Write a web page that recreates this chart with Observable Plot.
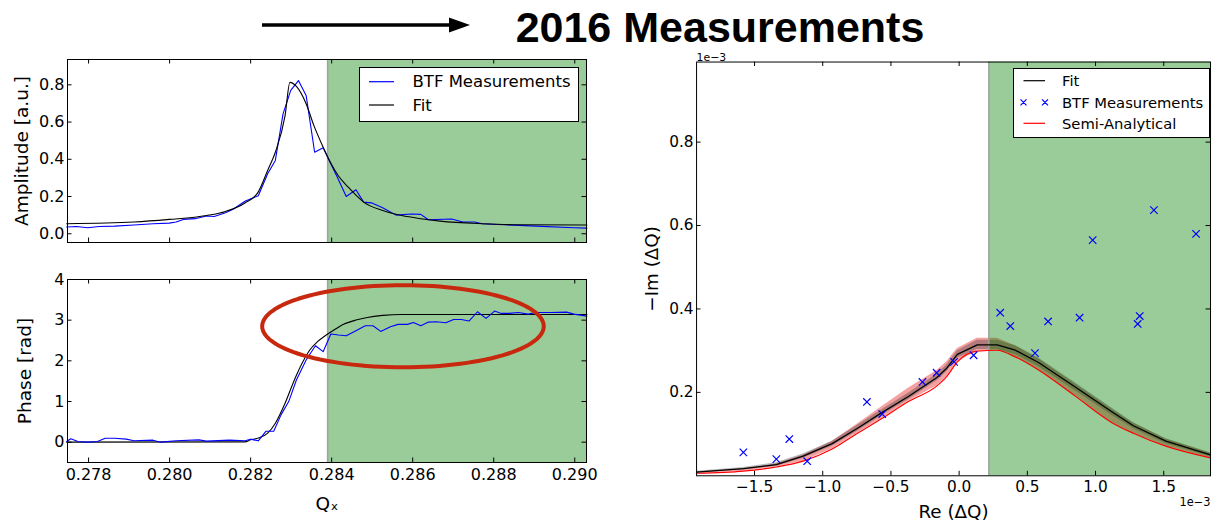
<!DOCTYPE html>
<html><head><meta charset="utf-8">
<script src="https://cdn.jsdelivr.net/npm/d3@7"></script>
<script src="https://cdn.jsdelivr.net/npm/@observablehq/plot@0.6"></script>
<style>
html,body{margin:0;padding:0;background:#fff;}
body{width:1214px;height:528px;overflow:hidden;position:relative;font-family:"DejaVu Sans",sans-serif;}
.abs{position:absolute;}
</style></head><body>
<svg class="abs" style="left:0;top:0;overflow:visible" width="1214" height="54">
  <line x1="262" y1="25" x2="452" y2="25" stroke="#000" stroke-width="3.5"/>
  <polygon points="449,17.5 470,25 449,32.5" fill="#000"/>
  <text x="720" y="41.5" text-anchor="middle" font-family="Liberation Sans, Arial, sans-serif" font-weight="bold" font-size="43">2016 Measurements</text>
</svg>
<div id="amp" class="abs" style="left:0;top:50px"></div>
<div id="phase" class="abs" style="left:0;top:255px"></div>
<div id="cplx" class="abs" style="left:600px;top:45px"></div>
<svg class="abs" style="left:359px;top:67px" width="220" height="55">
  <rect x="0.5" y="0.5" width="219" height="54" fill="#fff" stroke="#000"/>
  <line x1="10" x2="35" y1="14.7" y2="14.7" stroke="#0000ff" stroke-width="1.2"/>
  <text x="53.5" y="14.7" dominant-baseline="central" font-family="DejaVu Sans" font-size="16.5">BTF Measurements</text>
  <line x1="10" x2="35" y1="38" y2="38" stroke="#000" stroke-width="1.2"/>
  <text x="53.5" y="38" dominant-baseline="central" font-family="DejaVu Sans" font-size="16.5">Fit</text>
</svg>
<svg class="abs" style="left:1013px;top:68px" width="197" height="70">
  <rect x="0.5" y="0.5" width="196" height="69" fill="#fff" stroke="#000"/>
  <line x1="10.5" x2="32" y1="12.7" y2="12.7" stroke="#000" stroke-width="1.2"/>
  <text x="49" y="12.7" dominant-baseline="central" font-family="DejaVu Sans" font-size="14.75">Fit</text>
  <path d="M7.5,31.3 l6,6 M13.5,31.3 l-6,6 M29,31.3 l6,6 M35,31.3 l-6,6" stroke="#0000ff" stroke-width="1.2"/>
  <text x="49" y="34.3" dominant-baseline="central" font-family="DejaVu Sans" font-size="14.75">BTF Measurements</text>
  <line x1="10.5" x2="32" y1="55.3" y2="55.3" stroke="#ff0000" stroke-width="1.2"/>
  <text x="49" y="55.3" dominant-baseline="central" font-family="DejaVu Sans" font-size="14.75">Semi-Analytical</text>
</svg>
<script>
// ---------- data: left panels (tune Qx) ----------
const qDomain = [0.27748, 0.29029];
const qTicks = [0.278, 0.280, 0.282, 0.284, 0.286, 0.288, 0.290];
const ampTicks = [0.0, 0.2, 0.4, 0.6, 0.8];
const phaseTicks = [0, 1, 2, 3, 4];
const stableFromQ = 0.2839;

const ampQ = [0.27746,0.27770,0.27798,0.27826,0.27864,0.27912,0.27959,0.27999,0.28016,0.28034,0.28063,0.28091,0.28110,0.28138,0.28157,0.28186,0.28219,0.28242,0.28261,0.28280,0.28299,0.28318,0.28337,0.28358,0.28379,0.28394,0.28412,0.28436,0.28460,0.28479,0.28498,0.28526,0.28559,0.28597,0.28620,0.28639,0.28696,0.28724,0.28753,0.28772,0.28809,0.28904,0.28998,0.29030];
const ampBTF = [0.036,0.039,0.032,0.039,0.041,0.047,0.054,0.057,0.063,0.077,0.081,0.095,0.093,0.113,0.132,0.175,0.204,0.322,0.394,0.644,0.770,0.823,0.743,0.438,0.462,0.394,0.313,0.200,0.236,0.170,0.166,0.140,0.100,0.106,0.104,0.075,0.079,0.063,0.063,0.054,0.050,0.041,0.032,0.030];
const ampFitQ = [0.27746,0.27912,0.27999,0.28091,0.28138,0.28186,0.28219,0.28242,0.28261,0.28285,0.28297,0.28313,0.28337,0.28356,0.28379,0.28398,0.28416,0.28441,0.28479,0.28526,0.28573,0.28620,0.28668,0.28772,0.28866,0.29030];
const ampFit = [0.054,0.063,0.077,0.098,0.120,0.165,0.225,0.340,0.438,0.635,0.813,0.791,0.698,0.582,0.465,0.379,0.313,0.250,0.170,0.125,0.098,0.081,0.068,0.054,0.048,0.047];

const phaseQ = [0.27746,0.27756,0.27774,0.27798,0.27822,0.27841,0.27864,0.27893,0.27912,0.27959,0.27978,0.28016,0.28072,0.28091,0.28148,0.28186,0.28200,0.28219,0.28238,0.28257,0.28275,0.28294,0.28313,0.28337,0.28360,0.28379,0.28398,0.28417,0.28436,0.28460,0.28483,0.28502,0.28521,0.28545,0.28564,0.28587,0.28602,0.28620,0.28639,0.28658,0.28682,0.28701,0.28720,0.28739,0.28760,0.28781,0.28802,0.28819,0.28838,0.28861,0.28885,0.28904,0.28942,0.28980,0.28998,0.29030];
const phaseBTF = [0.016,0.082,0.016,0.000,0.016,0.098,0.098,0.074,0.033,0.049,0.000,0.033,0.057,0.025,0.049,0.033,0.074,0.033,0.270,0.270,0.671,0.998,1.530,2.020,2.372,2.225,2.658,2.634,2.618,2.740,2.863,2.863,2.724,2.838,2.896,2.896,2.945,2.863,2.953,2.961,2.937,3.018,3.018,2.978,3.207,3.043,3.223,3.166,3.166,3.190,3.149,3.190,3.190,3.198,3.149,3.100];
const phaseFitQ = [0.27746,0.28186,0.28200,0.28223,0.28242,0.28261,0.28285,0.28308,0.28327,0.28346,0.28365,0.28384,0.28403,0.28431,0.28460,0.28488,0.28526,0.28573,0.29030];
const phaseFit = [0.000,0.008,0.057,0.115,0.221,0.466,0.957,1.530,1.939,2.266,2.470,2.618,2.740,2.904,3.002,3.067,3.117,3.141,3.141];

// red highlight ellipse (annotation): centre and radii in data units
const ellipseCenter = {q: 0.28576, phase: 2.85};
const ellipseRadii = {q: 0.003475, phase: 1.01};

// ---------- data: right panel (stability diagram, units 1e-3) ----------
const reDomain = [-1.925, 1.843];
const imDomain = [0, 0.992];
const reTicks = [-1.5, -1.0, -0.5, 0.0, 0.5, 1.0, 1.5];
const imTicks = [0.2, 0.4, 0.6, 0.8];
const stableFromRe = 0.218;

const btfRe = [-1.582,-1.340,-1.245,-1.114,-0.676,-0.564,-0.269,-0.165,-0.037,0.106,0.301,0.375,0.556,0.652,0.883,1.309,1.324,0.979,1.428,1.737];
const btfIm = [0.056,0.040,0.088,0.035,0.177,0.148,0.225,0.247,0.273,0.289,0.391,0.359,0.294,0.370,0.379,0.364,0.383,0.565,0.637,0.580];

const curveRe = [-1.925,-1.582,-1.340,-1.144,-0.931,-0.745,-0.564,-0.372,-0.165,-0.093,-0.013,0.133,0.279,0.412,0.585,0.851,1.117,1.277,1.516,1.843];
const fitIm  = [0.009,0.017,0.027,0.047,0.077,0.114,0.152,0.190,0.235,0.257,0.291,0.314,0.314,0.301,0.271,0.213,0.154,0.120,0.083,0.050];
const fitLo  = [0.007,0.014,0.023,0.042,0.071,0.107,0.145,0.182,0.227,0.249,0.282,0.303,0.303,0.291,0.261,0.204,0.146,0.113,0.077,0.045];
const fitHi  = [0.011,0.020,0.031,0.052,0.083,0.121,0.159,0.198,0.243,0.265,0.300,0.325,0.325,0.312,0.282,0.223,0.163,0.128,0.089,0.055];
const semiIm = [0.006,0.011,0.021,0.035,0.064,0.102,0.138,0.178,0.215,0.237,0.273,0.299,0.301,0.285,0.253,0.191,0.128,0.102,0.071,0.043];
const semiHi = [0.009,0.016,0.028,0.049,0.082,0.124,0.166,0.210,0.252,0.272,0.305,0.330,0.330,0.312,0.280,0.220,0.160,0.126,0.088,0.054];

// ---------- helpers ----------
const zipXY = (xs, ys) => xs.map((x, i) => ({x, y: ys[i]}));
function frameTicks(xt, yt, fw, fh, len = 4.5) {
  return [
    Plot.tickX(xt, {x: d => d, insetTop: fh - len, stroke: "black"}),
    Plot.tickX(xt, {x: d => d, insetBottom: fh - len, stroke: "black"}),
    Plot.tickY(yt, {y: d => d, insetRight: fw - len, stroke: "black"}),
    Plot.tickY(yt, {y: d => d, insetLeft: fw - len, stroke: "black"})
  ];
}
const baseStyle = {fontFamily: "DejaVu Sans, sans-serif", color: "black", background: "transparent", overflow: "visible"};
const green = "#99cc99";

// ---------- amplitude ----------
const ampPlot = Plot.plot({
  width: 600, height: 205, marginLeft: 67, marginRight: 14, marginTop: 9, marginBottom: 13,
  style: {...baseStyle, fontSize: "16px"},
  x: {domain: qDomain, axis: null},
  y: {domain: [-0.047, 0.936], ticks: ampTicks, tickSize: 0, tickPadding: 3, tickFormat: d3.format(".1f"), label: null},
  marks: [
    Plot.rect([{from: stableFromQ, to: qDomain[1]}], {x1: "from", x2: "to", fill: green}),
    Plot.ruleX([stableFromQ], {stroke: "#a0a0a0", strokeWidth: 1.5}),
    Plot.line(zipXY(ampQ, ampBTF), {x: "x", y: "y", stroke: "#0000ff", strokeWidth: 1.1}),
    Plot.line(zipXY(ampFitQ, ampFit), {x: "x", y: "y", stroke: "#000", strokeWidth: 1.1, curve: "monotone-x"}),
    Plot.frame({stroke: "black"}),
    ...frameTicks(qTicks, ampTicks, 519, 183),
    Plot.text(["Amplitude [a.u.]"], {text: d => d, frameAnchor: "left", textAnchor: "middle", lineAnchor: "middle", dx: -45, rotate: -90, fontSize: 18.5})
  ]
});
document.getElementById("amp").append(ampPlot);

// ---------- phase ----------
const ellipsePts = d3.range(0, 360, 3).map(a => ({
  q: ellipseCenter.q + ellipseRadii.q * Math.cos(a * Math.PI / 180),
  p: ellipseCenter.phase + ellipseRadii.phase * Math.sin(a * Math.PI / 180)
}));
const phasePlot = Plot.plot({
  width: 600, height: 273, marginLeft: 67, marginRight: 14, marginTop: 24, marginBottom: 66,
  style: {...baseStyle, fontSize: "16px"},
  x: {domain: qDomain, ticks: qTicks, tickSize: 0, tickPadding: 6, tickFormat: d3.format(".3f"), label: null},
  y: {domain: [-0.5, 4], ticks: phaseTicks, tickSize: 0, tickPadding: 3, tickFormat: d3.format("d"), label: null},
  marks: [
    Plot.rect([{from: stableFromQ, to: qDomain[1]}], {x1: "from", x2: "to", fill: green}),
    Plot.ruleX([stableFromQ], {stroke: "#a0a0a0", strokeWidth: 1.5}),
    Plot.line(zipXY(phaseFitQ, phaseFit), {x: "x", y: "y", stroke: "#000", strokeWidth: 1.1, curve: "monotone-x"}),
    Plot.line(zipXY(phaseQ, phaseBTF), {x: "x", y: "y", stroke: "#0000ff", strokeWidth: 1.1}),
    Plot.line(ellipsePts, {x: "q", y: "p", stroke: "#c8290e", strokeWidth: 4, curve: "linear-closed"}),
    Plot.frame({stroke: "black"}),
    ...frameTicks(qTicks, phaseTicks, 519, 183),
    Plot.text(["Phase [rad]"], {text: d => d, frameAnchor: "left", textAnchor: "middle", lineAnchor: "middle", dx: -42, rotate: -90, fontSize: 18.5}),
    Plot.text(["Qₓ"], {text: d => d, frameAnchor: "bottom", lineAnchor: "middle", dy: 42, fontSize: 18.5})
  ]
});
document.getElementById("phase").append(phasePlot);

// ---------- complex plane ----------
const curves = curveRe.map((re, i) => ({re, fit: fitIm[i], lo: fitLo[i], hi: fitHi[i], semi: semiIm[i], semiHi: semiHi[i]}));
const btf = zipXY(btfRe, btfIm);
const cplxPlot = Plot.plot({
  width: 620, height: 483, marginLeft: 97, marginRight: 4, marginTop: 16.7, marginBottom: 48.5,
  style: {...baseStyle, fontSize: "15.5px"},
  x: {domain: reDomain, ticks: reTicks, tickSize: 0, tickPadding: 5, tickFormat: d3.format(".1f"), label: null},
  y: {domain: imDomain, ticks: imTicks, tickSize: 0, tickPadding: 3, tickFormat: d3.format(".1f"), label: null},
  marks: [
    Plot.areaY(curves, {x: "re", y1: "semi", y2: "semiHi", fill: "#ee4444", fillOpacity: 0.5}),
    Plot.areaY(curves, {x: "re", y1: "lo", y2: "hi", fill: "#333", fillOpacity: 0.35}),
    Plot.rect([{from: stableFromRe, to: reDomain[1]}], {x1: "from", x2: "to", fill: "#008000", fillOpacity: 0.4}),
    Plot.ruleX([stableFromRe], {stroke: "#a0a0a0", strokeWidth: 1.5}),
    Plot.line(curves, {x: "re", y: "semi", stroke: "#ff0000", strokeWidth: 1.2, curve: "monotone-x"}),
    Plot.line(curves, {x: "re", y: "fit", stroke: "#000", strokeWidth: 1.3}),
    Plot.dot(btf, {x: "x", y: "y", symbol: "times", r: 3.5, stroke: "#0000ff", strokeWidth: 1.2}),
    Plot.frame({stroke: "black"}),
    ...frameTicks(reTicks, imTicks, 519, 417.8),
    Plot.text(["−Im (ΔQ)"], {text: d => d, frameAnchor: "left", textAnchor: "middle", lineAnchor: "middle", dx: -45, rotate: -90, fontSize: 18.5}),
    Plot.text(["Re (ΔQ)"], {text: d => d, frameAnchor: "bottom", lineAnchor: "middle", dy: 37, fontSize: 18.5}),
    Plot.text(["1e−3"], {text: d => d, frameAnchor: "top-left", textAnchor: "start", lineAnchor: "middle", dy: -4.5, fontSize: 11}),
    Plot.text(["1e−3"], {text: d => d, frameAnchor: "bottom-right", textAnchor: "end", lineAnchor: "middle", dy: 27, fontSize: 11.5})
  ]
});
document.getElementById("cplx").append(cplxPlot);
</script>
</body></html>
